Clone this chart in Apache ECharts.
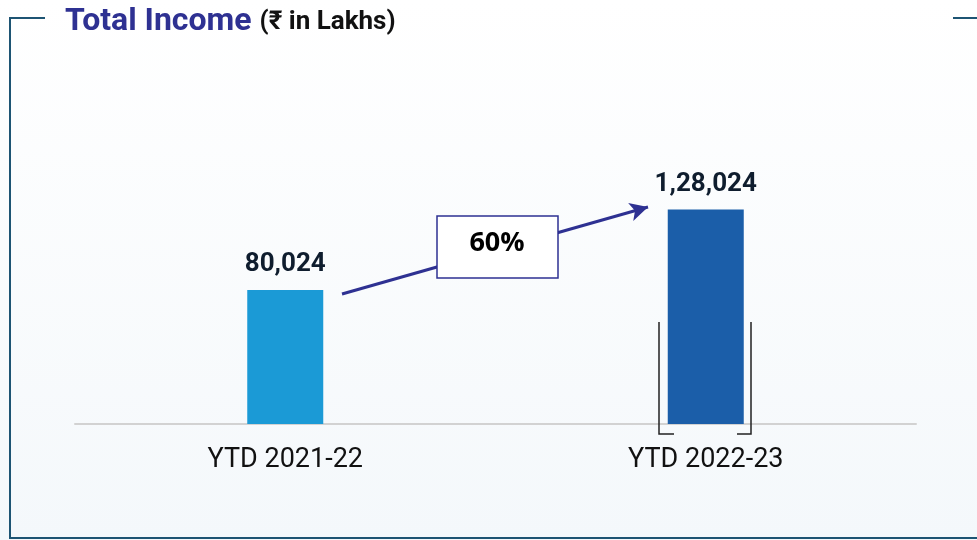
<!DOCTYPE html>
<html>
<head>
<meta charset="utf-8">
<script src="https://cdn.jsdelivr.net/npm/echarts@6/dist/echarts.min.js"></script>
<style>
  html, body { margin: 0; padding: 0; }
  #main { width: 977px; height: 540px; }
</style>
</head>
<body>
<div id="main"></div>
<script>
// data
var categories = ["YTD 2021-22", "YTD 2022-23"];
var income = [80024, 128024];
var valueLabels = ["80,024", "1,28,024"];
var growthLabel = "60%";
var barColors = ["#1b9ad6", "#1b5ea9"];

var frameColor = "#1d5473";
var arrowColor = "#2e3192";

var chart = echarts.init(document.getElementById("main"));

var option = {
  backgroundColor: {
    type: "linear", x: 0, y: 0, x2: 0, y2: 1,
    colorStops: [
      { offset: 0, color: "#ffffff" },
      { offset: 1, color: "#f4f8fb" }
    ]
  },
  title: {
    text: "Total Income {u|(₹ in Lakhs)}",
    left: 60,
    top: 1,
    textStyle: {
      fontFamily: "Roboto",
      fontSize: 32,
      fontWeight: "bold",
      color: "#2e3192",
      rich: {
        u: { fontFamily: "Roboto", fontSize: 26, fontWeight: "bold", color: "#111111" }
      }
    }
  },
  grid: { left: 75, right: 61, top: 89, bottom: 116 },
  xAxis: {
    type: "category",
    data: categories,
    axisLine: { lineStyle: { color: "#d2d2d2", width: 2 } },
    axisTick: { show: false },
    axisLabel: {
      margin: 23,
      fontFamily: "Roboto",
      fontSize: 27,
      color: "#111111"
    }
  },
  yAxis: {
    type: "value",
    min: 0,
    max: 200000,
    show: false,
    splitLine: { show: false }
  },
  series: [
    {
      type: "bar",
      barWidth: 76,
      data: income.map(function (v, i) {
        return { value: v, itemStyle: { color: barColors[i] } };
      }),
      label: {
        show: true,
        position: "top",
        distance: 12,
        fontFamily: "Roboto",
        fontSize: 26,
        fontWeight: "bold",
        color: "#0f1d2e",
        formatter: function (p) { return valueLabels[p.dataIndex]; }
      },
      markLine: {
        silent: true,
        symbol: ["none", "arrow"],
        symbolSize: [14, 18],
        label: { show: false },
        lineStyle: { color: arrowColor, width: 3, type: "solid" },
        data: [[{ x: 342, y: 294 }, { x: 648, y: 207 }]]
      }
    }
  ],
  graphic: [
    // frame
    { type: "polyline", z: 100, shape: { points: [[45, 18], [10, 18], [10, 538], [977, 538]] },
      style: { stroke: frameColor, lineWidth: 2, fill: null } },
    { type: "line", z: 100, shape: { x1: 953, y1: 18, x2: 977, y2: 18 },
      style: { stroke: frameColor, lineWidth: 2 } },
    // growth box
    { type: "rect", z: 100, shape: { x: 437, y: 216, width: 121, height: 62 },
      style: { fill: "#ffffff", stroke: arrowColor, lineWidth: 1.5 } },
    { type: "text", z: 101, x: 497, y: 243,
      style: { text: growthLabel, font: "bold 27px 'Open Sans'", fill: "#000000",
               textAlign: "center", textVerticalAlign: "middle" } },
    // bracket around current year
    { type: "polyline", z: 100, shape: { points: [[674, 434], [659, 434], [659, 322]] },
      style: { stroke: "#222222", lineWidth: 1.5, fill: null } },
    { type: "polyline", z: 100, shape: { points: [[737, 434], [751, 434], [751, 322]] },
      style: { stroke: "#222222", lineWidth: 1.5, fill: null } }
  ]
};

chart.setOption(option);
</script>
</body>
</html>
